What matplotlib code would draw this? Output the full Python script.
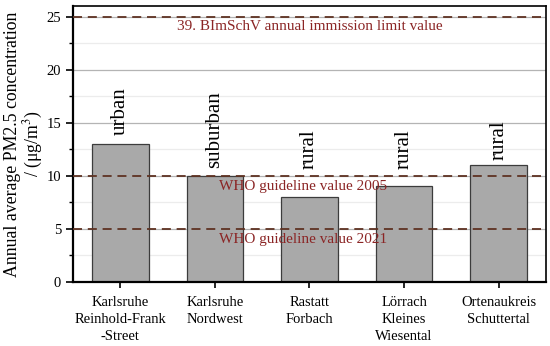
import matplotlib.pyplot as plt
from matplotlib.ticker import MultipleLocator

plt.rcParams['font.family'] = ['Liberation Serif', 'DejaVu Serif']
plt.rcParams['mathtext.fontset'] = 'stix'

# ---------------------------------------------------------
# data
# ---------------------------------------------------------
stations = ['Karlsruhe\nReinhold-Frank\n-Street', 'Karlsruhe\nNordwest',
            'Rastatt\nForbach', 'Lörrach\nKleines\nWiesental',
            'Ortenaukreis\nSchuttertal']
pm25 = [13, 10, 8, 9, 11]
site_type = ['urban', 'suburban', 'rural', 'rural', 'rural']
site_label_y = [13.8, 10.7, 10.6, 10.6, 11.5]

limit_values = [25, 10, 5]
limit_names = ['39. BImSchV annual immission limit value',
               'WHO guideline value 2005',
               'WHO guideline value 2021']
limit_label_x = [2.0, 1.93, 1.93]

# ---------------------------------------------------------
# plot
# ---------------------------------------------------------
fig = plt.figure(figsize=(5.5, 3.46), dpi=100)
ax = fig.add_axes([0.1327, 0.185, 0.86, 0.7977])

x = range(len(stations))
ax.bar(x, pm25, width=0.6, color='#a9a9a9', edgecolor='#3c3c3c',
       linewidth=0.9, zorder=2)

for xi, lab, ly in zip(x, site_type, site_label_y):
    ax.text(xi, ly, lab, rotation=90, ha='center', va='bottom',
            fontsize=15, zorder=4)

for val, name, lx in zip(limit_values, limit_names, limit_label_x):
    ax.axhline(val, color='#5e3222', linestyle=(0, (5, 3.2)),
               linewidth=1.3, zorder=3)
    ax.text(lx, val - 0.35, name, ha='center', va='top', fontsize=11,
            color='#8b2525', zorder=4)

ax.set_xlim(-0.5, 4.5)
ax.set_ylim(0, 26)
ax.yaxis.set_major_locator(MultipleLocator(5))
ax.yaxis.set_minor_locator(MultipleLocator(2.5))
ax.grid(axis='y', which='major', color='#b4b4b4', linewidth=0.9, zorder=0)
ax.grid(axis='y', which='minor', color='#ececec', linewidth=0.9, zorder=0)
ax.set_axisbelow(True)

ax.set_xticks(list(x))
ax.set_xticklabels(stations, fontsize=10.5, linespacing=1.4)
ax.tick_params(axis='y', labelsize=10.5, direction='out', length=5, width=1.2)
ax.tick_params(axis='y', which='minor', direction='out', length=3, width=1.0)
ax.tick_params(axis='x', direction='out', length=4, width=1.2, pad=6)

for side in ['left', 'bottom']:
    ax.spines[side].set_linewidth(1.6)
for side in ['top', 'right']:
    ax.spines[side].set_linewidth(1.2)

ax.set_ylabel('Annual average PM2.5 concentration\n/ (μg/m$^3$)',
              fontsize=12.8, linespacing=1.05)
ax.yaxis.set_label_coords(-0.06, 0.5)

fig.savefig('out.png', dpi=100)
